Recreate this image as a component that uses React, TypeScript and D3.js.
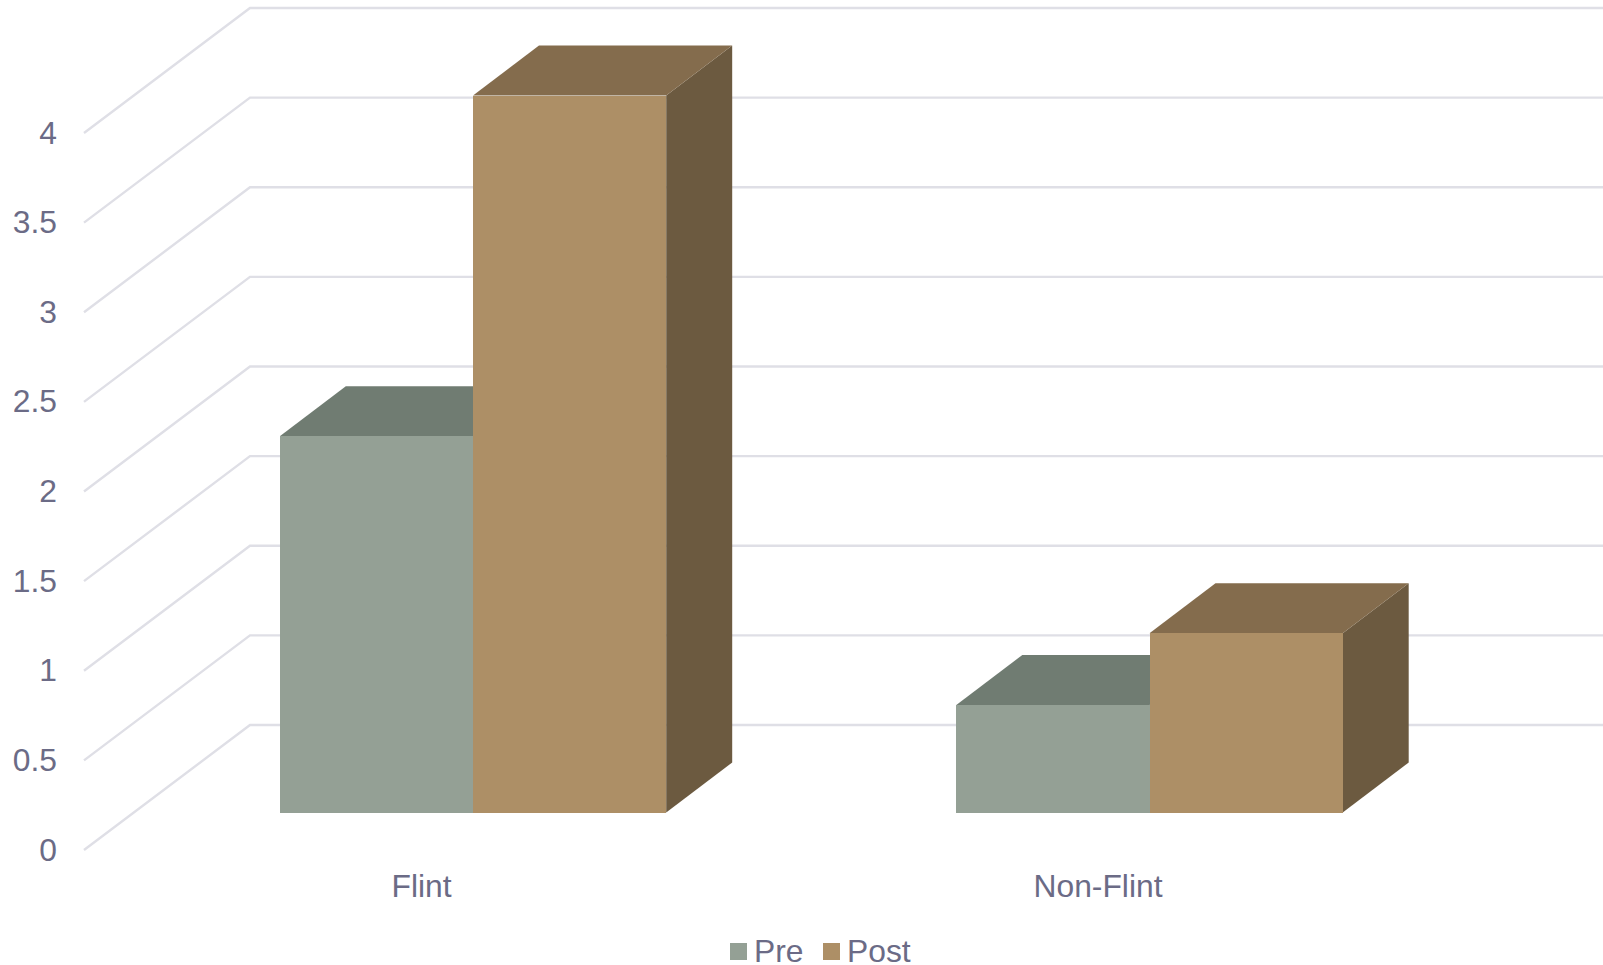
import React from "react";
import * as d3 from "d3";

const categories = ["Flint", "Non-Flint"];
const seriesNames = ["Pre", "Post"];
const preValues = [2.1, 0.6];
const postValues = [4.0, 1.0];
const ticks = [0, 0.5, 1, 1.5, 2, 2.5, 3, 3.5, 4];
const seriesValues = [preValues, postValues];

const frontColors = ["#94A095", "#AD8F66"];
const topColors = ["#707C72", "#846C4D"];
const sideColors = ["#5A645C", "#6C5A40"];
const gridColor = "#DFDFE6";
const textColor = "#6B6B86";

const W = 1603, H = 965;
const backY = d3.scaleLinear().domain([0, 4]).range([725, 8]);
const wallX0 = 250, wallX1 = 1603, floorDX = 166, floorDY = 125;
const barFloorY = 812.6, depthDX = 66, depthDY = 50;
const catX = d3.scalePoint<string>().domain(categories).range([473, 1149.5]);
const barW = 193.2;
const labelShift = -51.5;
const fontSize = 31.8;

export default function App() {
  const font = "'Liberation Sans', Arial, sans-serif";
  return (
    <svg width={W} height={H} viewBox={`0 0 ${W} ${H}`}
      style={{ position: "absolute", left: 0, top: 0, background: "#fff" }} fontFamily={font}>
      {ticks.map((t) => {
        const y = backY(t);
        return (
          <g key={t}>
            <polyline fill="none" stroke={gridColor} strokeWidth={2.4}
              points={`${wallX0 - floorDX},${y + floorDY} ${wallX0},${y} ${wallX1},${y}`} />
            <text x={57} y={y + floorDY + 10.5} textAnchor="end" fontSize={fontSize} fill={textColor}>{t}</text>
          </g>
        );
      })}
      {categories.map((c, i) => {
        const cx = catX(c)!;
        return (
          <g key={c}>
            {seriesValues.map((vals, s) => {
              const x0 = cx + (s - 1) * barW, x1 = x0 + barW;
              const yT = barFloorY - (backY(0) - backY(vals[i]));
              return (
                <g key={s}>
                  <path fill={sideColors[s]} d={`M${x1},${yT}L${x1 + depthDX},${yT - depthDY}L${x1 + depthDX},${barFloorY - depthDY}L${x1},${barFloorY}Z`} />
                  <path fill={topColors[s]} d={`M${x0},${yT}L${x0 + depthDX},${yT - depthDY}L${x1 + depthDX},${yT - depthDY}L${x1},${yT}Z`} />
                  <rect x={x0} y={yT} width={barW} height={barFloorY - yT} fill={frontColors[s]} shapeRendering="crispEdges" />
                </g>
              );
            })}
            <text x={cx + labelShift} y={897} textAnchor="middle" fontSize={fontSize} fill={textColor}>{c}</text>
          </g>
        );
      })}
      {seriesNames.map((n, s) => {
        const x = [730, 823][s];
        return (
          <g key={n}>
            <rect x={x} y={943} width={17} height={17} fill={frontColors[s]} />
            <text x={x + 24} y={962} fontSize={fontSize} fill={textColor}>{n}</text>
          </g>
        );
      })}
    </svg>
  );
}
